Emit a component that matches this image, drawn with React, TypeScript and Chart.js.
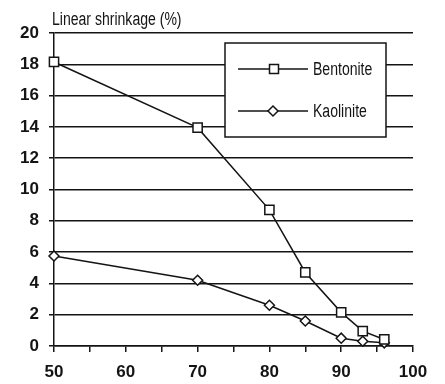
import React, { useEffect, useRef } from 'react';
import { Chart, registerables } from 'chart.js';

Chart.register(...registerables);

const xValues = [50, 70, 80, 85, 90, 93, 96];
const bentonite = [18.15, 13.95, 8.7, 4.7, 2.15, 0.95, 0.42];
const kaolinite = [5.75, 4.2, 2.6, 1.6, 0.5, 0.3, 0.2];
const seriesNames = ['Bentonite', 'Kaolinite'];
const yAxisTitle = 'Linear shrinkage (%)';
const xMin = 50;
const xMax = 100;
const yMin = 0;
const yMax = 20;

const INK = '#141414';
const SANS = '"Liberation Sans", Arial, sans-serif';

function drawNarrow(ctx: CanvasRenderingContext2D, text: string, x: number, y: number, size: number, sx: number, baseline: CanvasTextBaseline) {
  ctx.save();
  ctx.translate(x, y);
  ctx.scale(sx, 1);
  ctx.font = `${size}px ${SANS}`;
  ctx.fillStyle = INK;
  ctx.textAlign = 'left';
  ctx.textBaseline = baseline;
  ctx.fillText(text, 0, 0);
  ctx.restore();
}

export default function App() {
  const ref = useRef<HTMLCanvasElement>(null);

  useEffect(() => {
    if (!ref.current) return;

    const titlePlugin = {
      id: 'yTitle',
      afterDraw(chart: any) {
        drawNarrow(chart.ctx, yAxisTitle, 52, 25, 18, 0.78, 'alphabetic');
      },
    };

    const legendPlugin = {
      id: 'boxLegend',
      afterDraw(chart: any) {
        const ctx = chart.ctx;
        ctx.save();
        const bx = 225, by = 43, bw = 161, bh = 94;
        ctx.fillStyle = '#fff';
        ctx.fillRect(bx, by, bw, bh);
        ctx.strokeStyle = INK;
        ctx.lineWidth = 1.5;
        ctx.strokeRect(bx, by, bw, bh);
        const rows = [69, 111];
        rows.forEach((ry, i) => {
          ctx.beginPath();
          ctx.moveTo(238, ry);
          ctx.lineTo(308, ry);
          ctx.stroke();
          ctx.fillStyle = '#fff';
          ctx.beginPath();
          if (i === 0) {
            ctx.rect(274 - 4.5, ry - 4.5, 9, 9);
          } else {
            ctx.moveTo(273, ry - 5);
            ctx.lineTo(278, ry);
            ctx.lineTo(273, ry + 5);
            ctx.lineTo(268, ry);
            ctx.closePath();
          }
          ctx.fill();
          ctx.stroke();
          drawNarrow(ctx, seriesNames[i], 313, ry + 1, 18, 0.78, 'middle');
        });
        ctx.restore();
      },
    };

    const chart = new Chart(ref.current, {
      type: 'line',
      data: {
        datasets: [
          {
            label: seriesNames[0],
            data: xValues.map((x, i) => ({ x, y: bentonite[i] })),
            borderColor: INK,
            borderWidth: 1.5,
            pointStyle: 'rect',
            pointRadius: 6.5,
            pointBackgroundColor: '#fff',
            pointBorderColor: INK,
            pointBorderWidth: 1.5,
            tension: 0,
            clip: false,
          },
          {
            label: seriesNames[1],
            data: xValues.map((x, i) => ({ x, y: kaolinite[i] })),
            borderColor: INK,
            borderWidth: 1.5,
            pointStyle: 'rectRot',
            pointRadius: 5,
            pointBackgroundColor: '#fff',
            pointBorderColor: INK,
            pointBorderWidth: 1.5,
            tension: 0,
            clip: false,
          },
        ],
      },
      options: {
        responsive: false,
        animation: false,
        devicePixelRatio: 1,
        layout: { padding: { top: 33, right: 32, left: 0, bottom: 0 } },
        plugins: { legend: { display: false }, tooltip: { enabled: false } },
        scales: {
          x: {
            type: 'linear',
            min: xMin,
            max: xMax,
            ticks: {
              stepSize: 5,
              autoSkip: false,
              maxRotation: 0,
              padding: 10,
              color: INK,
              font: { family: SANS, size: 17, weight: 'bold' },
              callback: (v: any) => (Number(v) % 10 === 0 ? String(v) : ''),
            },
            grid: { drawOnChartArea: false, drawTicks: true, tickLength: 6, color: INK, lineWidth: 1.5 },
            border: { display: true, color: INK, width: 1.5 },
            afterFit: (s: any) => { s.height = 38; },
          },
          y: {
            type: 'linear',
            min: yMin,
            max: yMax,
            ticks: {
              stepSize: 2,
              padding: 10,
              color: INK,
              font: { family: SANS, size: 17, weight: 'bold' },
            },
            grid: { color: INK, lineWidth: 1.5, tickLength: 5 },
            border: { display: true, color: INK, width: 1.5 },
            afterFit: (s: any) => { s.width = 54; },
          },
        },
      },
      plugins: [titlePlugin, legendPlugin],
    } as any);

    return () => chart.destroy();
  }, []);

  return (
    <div style={{ position: 'absolute', left: 0, top: 0, width: 445, height: 384, background: '#fff' }}>
      <canvas ref={ref} width={445} height={384} style={{ width: 445, height: 384 }} />
    </div>
  );
}
